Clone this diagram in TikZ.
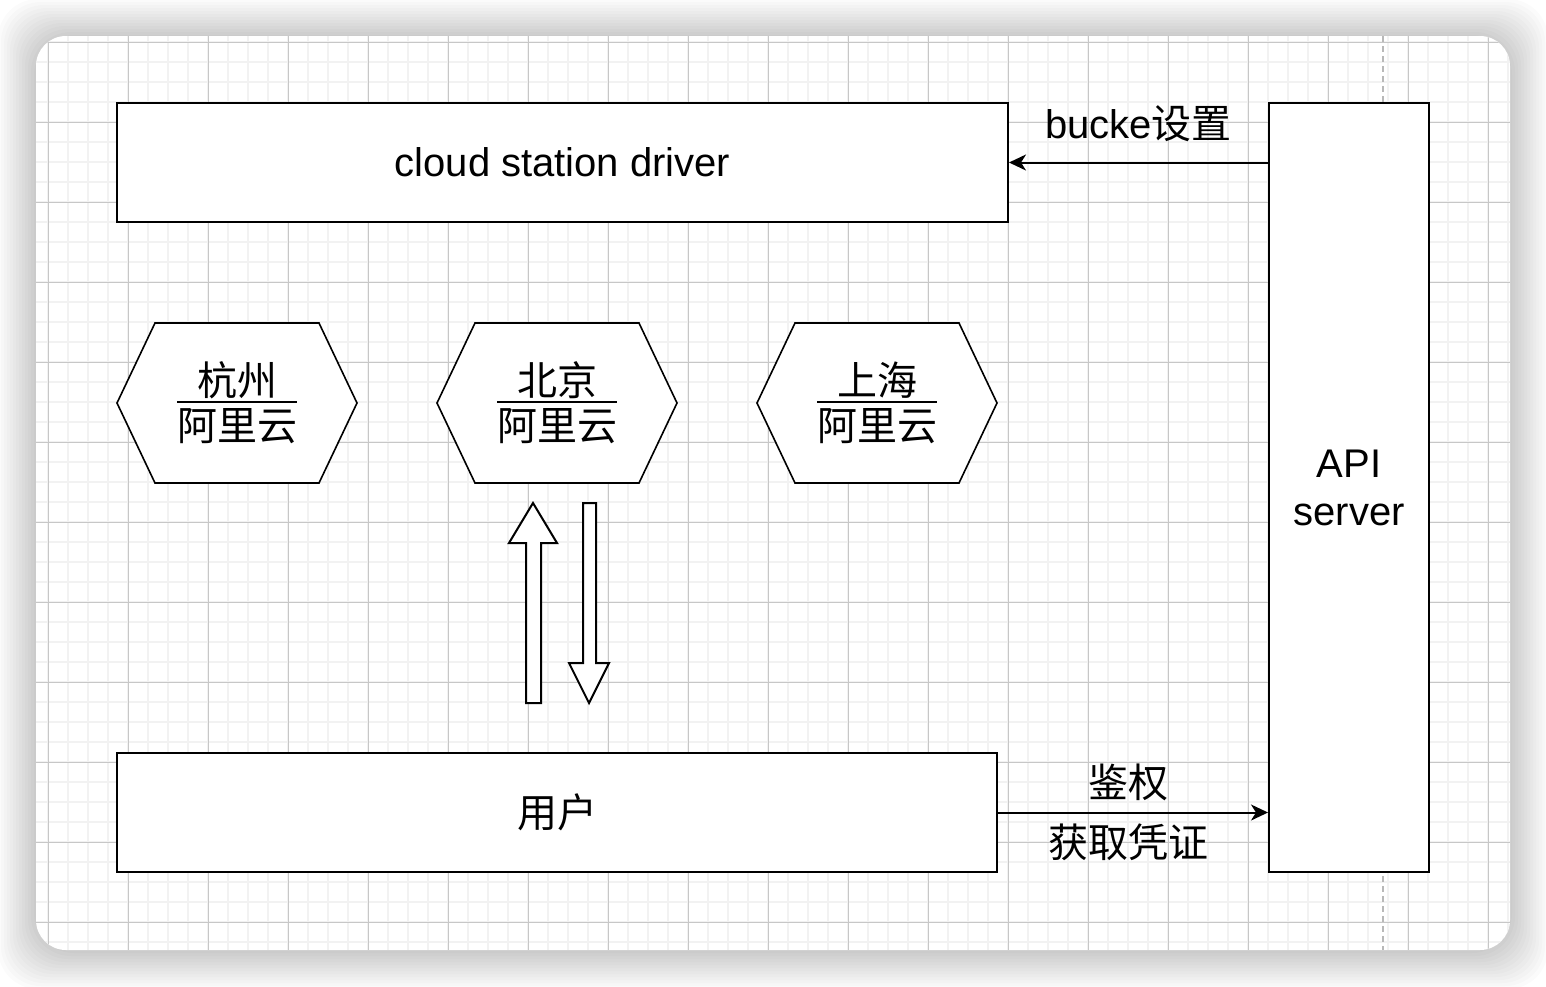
\documentclass[tikz,border=0pt]{standalone}
\usepackage{fontspec}
\setmainfont{Liberation Sans}
\newfontfamily\cjk{Noto Sans CJK SC}
\usetikzlibrary{arrows.meta}

\begin{document}
\begin{tikzpicture}[x=0.5pt,y=-0.5pt,
  box/.style={draw,line width=1pt,fill=white,inner sep=0pt,font=\fontsize{20pt}{24pt}\selectfont},
  txt/.style={inner sep=0pt,font=\fontsize{20pt}{24pt}\selectfont\cjk},
  conn/.style={line width=1pt,-{Stealth[length=8.5pt,width=8pt,inset=2.5pt]}},
  hexa/.style={draw,line width=0.8pt,fill=white,line join=miter},
  fat/.style={draw,line width=1pt,fill=white,line join=miter}]
\useasboundingbox (0,0) rectangle (1546,986);
\fill[white] (0,0) rectangle (1546,986);

% Card shadow and card
\foreach \s in {2,5,...,38} {
  \fill[black,opacity=0.014,rounded corners=20pt] (36-\s,37-\s) rectangle (1510+\s,951+\s);
}
\fill[white,rounded corners=15pt] (36,36) rectangle (1510,950);

% Grid
\begin{scope}
\clip[rounded corners=15pt] (36,36) rectangle (1510,950);
\foreach \x in {48,68,...,1510} {
  \draw[line width=1pt,black!5] (\x,36) -- (\x,950);
}
\foreach \y in {42,62,...,950} {
  \draw[line width=1pt,black!5] (36,\y) -- (1510,\y);
}
\foreach \x in {48,128,...,1510} {
  \draw[line width=0.5pt,black!22] (\x,36) -- (\x,950);
}
\foreach \y in {42,122,...,950} {
  \draw[line width=0.5pt,black!22] (36,\y) -- (1510,\y);
}
% Page border
\draw[line width=1pt,black!28,dash pattern=on 3pt off 2pt] (1383,36) -- (1383,950);
\end{scope}

% Boxes
\node[box,minimum width=445.5pt,minimum height=59.5pt] (driver) at (562.5,162.5) {cloud station driver};
\node[box,minimum width=80pt,minimum height=384.5pt,align=center] (api) at (1349,487.5) {API\\server};
\node[box,minimum width=440pt,minimum height=59.5pt,font=\fontsize{20pt}{24pt}\selectfont\cjk] (user) at (557,812.5) {用户};

% Regions
\foreach \cx/\nm/\city in {237/hz/杭州,557/bj/北京,877/sh/上海} {
  \draw[hexa] (\cx-120,403) -- (\cx-82,323) -- (\cx+82,323) -- (\cx+120,403) -- (\cx+82,483) -- (\cx-82,483) -- cycle;
  \node[txt] (\nm) at (\cx,380) {\city};
  \node[txt] (\nm-yun) at (\cx,426) {阿里云};
  \draw[line width=0.8pt] (\cx-60,402) -- (\cx+60,402);
}

% Up / down transfer
\draw[fat] (526,703) -- (526,543) -- (509,543) -- (533,503) -- (557,543) -- (541,543) -- (541,703) -- cycle;
\draw[fat] (583,503) -- (596,503) -- (596,663) -- (609,663) -- (589,703) -- (569,663) -- (583,663) -- cycle;

% Connectors
\draw[conn] (api.west |- driver) -- (driver.east)
  node[txt,midway,yshift=19.5pt,font=\fontsize{20pt}{24pt}\selectfont] (bucket) {bucke{\cjk 设置}};
\draw[conn] (user.east) -- (api.west |- user)
  node[txt,midway,xshift=-2.5pt,yshift=15pt] (auth) {鉴权}
  node[txt,midway,xshift=-2.5pt,yshift=-15pt] (cred) {获取凭证};

\end{tikzpicture}
\end{document}
